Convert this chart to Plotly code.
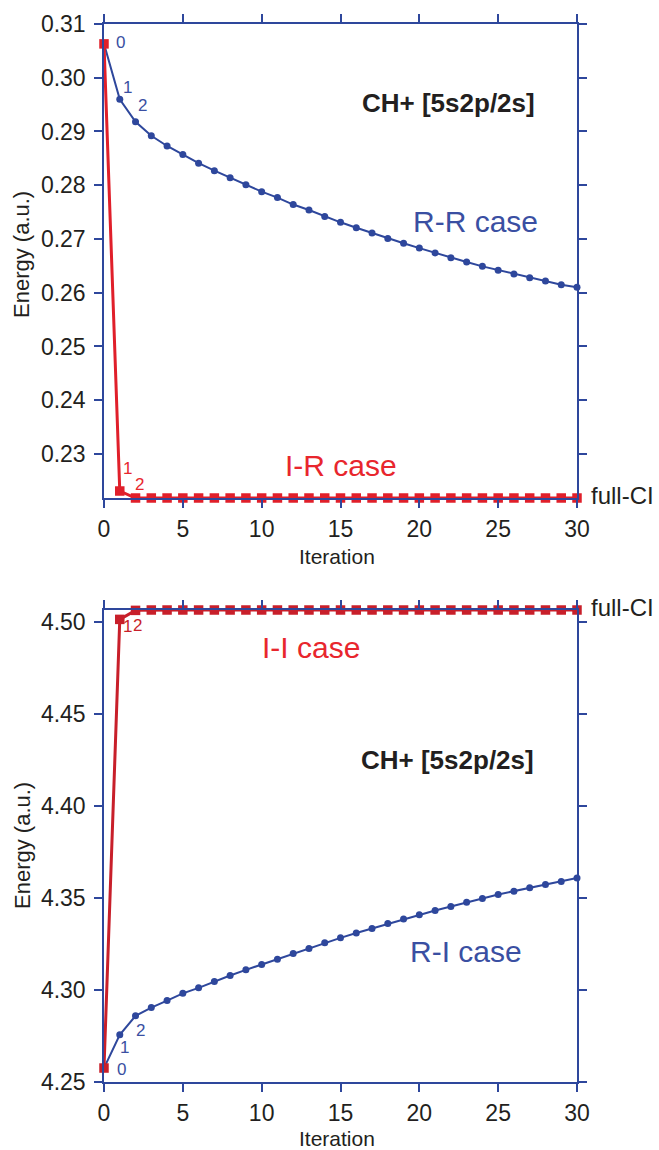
import plotly.graph_objects as go

# ---------------- data ----------------
iterations = list(range(31))

# top panel (CH+ [5s2p/2s], real energies)
rr_energy = [0.3063, 0.2960, 0.2918, 0.2892, 0.2873, 0.2857, 0.2841, 0.2827, 0.2814, 0.2801,
             0.2788, 0.2777, 0.2764, 0.2754, 0.2742, 0.2731, 0.2721, 0.2711, 0.2701, 0.2692,
             0.2683, 0.2674, 0.2665, 0.2657, 0.2649, 0.2642, 0.2635, 0.2628, 0.2622, 0.2615,
             0.2610]
ir_energy = [0.3063, 0.2231, 0.2218, 0.2218, 0.2218, 0.2218, 0.2218, 0.2218, 0.2218, 0.2218,
             0.2218, 0.2218, 0.2218, 0.2218, 0.2218, 0.2218, 0.2218, 0.2218, 0.2218, 0.2218,
             0.2218, 0.2218, 0.2218, 0.2218, 0.2218, 0.2218, 0.2218, 0.2218, 0.2218, 0.2218,
             0.2218]
full_ci_top = 0.2218

# bottom panel
ri_energy = [4.2576, 4.2757, 4.2860, 4.2905, 4.2943, 4.2982, 4.3012, 4.3047, 4.3079, 4.3110,
             4.3139, 4.3168, 4.3199, 4.3226, 4.3257, 4.3284, 4.3310, 4.3335, 4.3362, 4.3386,
             4.3409, 4.3433, 4.3454, 4.3478, 4.3498, 4.3520, 4.3538, 4.3556, 4.3574, 4.3590,
             4.3610]
ii_energy = [4.2576, 4.5016, 4.5065, 4.5067, 4.5067, 4.5067, 4.5067, 4.5067, 4.5067, 4.5067,
             4.5067, 4.5067, 4.5067, 4.5067, 4.5067, 4.5067, 4.5067, 4.5067, 4.5067, 4.5067,
             4.5067, 4.5067, 4.5067, 4.5067, 4.5067, 4.5067, 4.5067, 4.5067, 4.5067, 4.5067,
             4.5067]
full_ci_bottom = 4.5067

x_ticks = [0, 5, 10, 15, 20, 25, 30]
y_ticks_top = [0.23, 0.24, 0.25, 0.26, 0.27, 0.28, 0.29, 0.30, 0.31]
y_ticks_bottom = [4.25, 4.30, 4.35, 4.40, 4.45, 4.50]

# ---------------- style ----------------
BLUE = "#2e479c"
BLUE_TXT = "#3a4fa2"
RED_TOP = "#e01f2a"
RED_BOT = "#c81f2a"
RED_TXT = "#e8262d"
DARK = "#231f20"
FONT = "Liberation Sans, Arial, Helvetica, sans-serif"

W, H = 659, 1150
ML, MR, MT, MB = 104, 82, 24, 68
PW = W - ML - MR
PH = H - MT - MB


def px(x):
    return (x - ML) / PW


def py(y):
    return (H - MB - y) / PH


fig = go.Figure()

# top panel
fig.add_trace(go.Scatter(x=iterations, y=rr_energy, mode="lines+markers",
                         line=dict(color=BLUE, width=2), marker=dict(color=BLUE, size=7),
                         cliponaxis=False, xaxis="x", yaxis="y", showlegend=False))
fig.add_trace(go.Scatter(x=iterations, y=ir_energy, mode="lines+markers",
                         line=dict(color=RED_TOP, width=3),
                         marker=dict(color=RED_TOP, size=9.5, symbol="square"),
                         cliponaxis=False, xaxis="x", yaxis="y", showlegend=False))
# bottom panel
fig.add_trace(go.Scatter(x=iterations, y=ri_energy, mode="lines+markers",
                         line=dict(color=BLUE, width=2), marker=dict(color=BLUE, size=7),
                         cliponaxis=False, xaxis="x2", yaxis="y2", showlegend=False))
fig.add_trace(go.Scatter(x=iterations, y=ii_energy, mode="lines+markers",
                         line=dict(color=RED_BOT, width=3),
                         marker=dict(color=RED_BOT, size=9.5, symbol="square"),
                         cliponaxis=False, xaxis="x2", yaxis="y2", showlegend=False))

axis_common = dict(showline=True, linecolor=BLUE, linewidth=1.5, mirror="ticks",
                   ticks="outside", ticklen=8, tickwidth=1.5, tickcolor=BLUE,
                   showgrid=False, zeroline=False,
                   tickfont=dict(family=FONT, size=23, color=DARK))

top_dom = [py(498), 1.0]
bot_dom = [0.0, py(610)]

fig.update_layout(
    width=W, height=H,
    margin=dict(l=ML, r=MR, t=MT, b=MB),
    paper_bgcolor="white", plot_bgcolor="white",
    xaxis=dict(axis_common, domain=[0, 1], anchor="y", range=[0, 30],
               tickvals=x_ticks, ticklabelstandoff=2),
    yaxis=dict(axis_common, domain=top_dom, anchor="x", range=[full_ci_top, 0.31],
               tickvals=y_ticks_top, tickformat=".2f", ticklabelstandoff=4),
    xaxis2=dict(axis_common, domain=[0, 1], anchor="y2", range=[0, 30],
                tickvals=x_ticks, ticklabelstandoff=2),
    yaxis2=dict(axis_common, domain=bot_dom, anchor="x2", range=[4.25, full_ci_bottom],
                tickvals=y_ticks_bottom, tickformat=".2f", ticklabelstandoff=4),
)

ann = []


def text(x, y, s, size, color, bold=False, xanchor="center", angle=0):
    ann.append(dict(x=px(x), y=py(y), xref="paper", yref="paper", text=f"<b>{s}</b>" if bold else s,
                    showarrow=False, xanchor=xanchor, yanchor="middle", textangle=angle,
                    font=dict(family=FONT, size=size, color=color)))


def plabel(xa, ya, i, val, s, dx, dy, color):
    ann.append(dict(x=i, y=val, xref=xa, yref=ya, text=s, showarrow=False,
                    xanchor="center", yanchor="middle", xshift=dx, yshift=dy,
                    font=dict(family=FONT, size=17, color=color)))


# axis titles
text(337, 556, "Iteration", 21, DARK)
text(337, 1138, "Iteration", 21, DARK)
text(22, 255, "Energy (a.u.)", 22, DARK, angle=-90)
text(22, 846, "Energy (a.u.)", 22, DARK, angle=-90)

# panel labels
text(448, 103, "CH+ [5s2p/2s]", 26, DARK, bold=True)
text(447, 760, "CH+ [5s2p/2s]", 26, DARK, bold=True)
text(475, 221, "R-R case", 30, BLUE_TXT)
text(341, 465, "I-R case", 30, RED_TXT)
text(311, 647, "I-I case", 30, RED_TXT)
text(466, 951, "R-I case", 30, BLUE_TXT)
text(589, 495, "full-CI", 24, DARK, xanchor="left")
text(589, 608, "full-CI", 24, DARK, xanchor="left")

# iteration labels
plabel("x", "y", 0, rr_energy[0], "0", 16, 1, BLUE_TXT)
plabel("x", "y", 1, rr_energy[1], "1", 8, 12, BLUE_TXT)
plabel("x", "y", 2, rr_energy[2], "2", 7, 16, BLUE_TXT)
plabel("x", "y", 1, ir_energy[1], "1", 8, 23, RED_TXT)
plabel("x", "y", 2, ir_energy[2], "2", 4, 14, RED_TXT)
plabel("x2", "y2", 1, ii_energy[1], "1", 8, -7, RED_BOT)
plabel("x2", "y2", 2, ii_energy[2], "2", 2, -15, RED_BOT)
plabel("x2", "y2", 0, ri_energy[0], "0", 17, -1, BLUE_TXT)
plabel("x2", "y2", 1, ri_energy[1], "1", 5, -13, BLUE_TXT)
plabel("x2", "y2", 2, ri_energy[2], "2", 5, -15, BLUE_TXT)

fig.update_layout(annotations=ann)

fig.write_html("out.html")
